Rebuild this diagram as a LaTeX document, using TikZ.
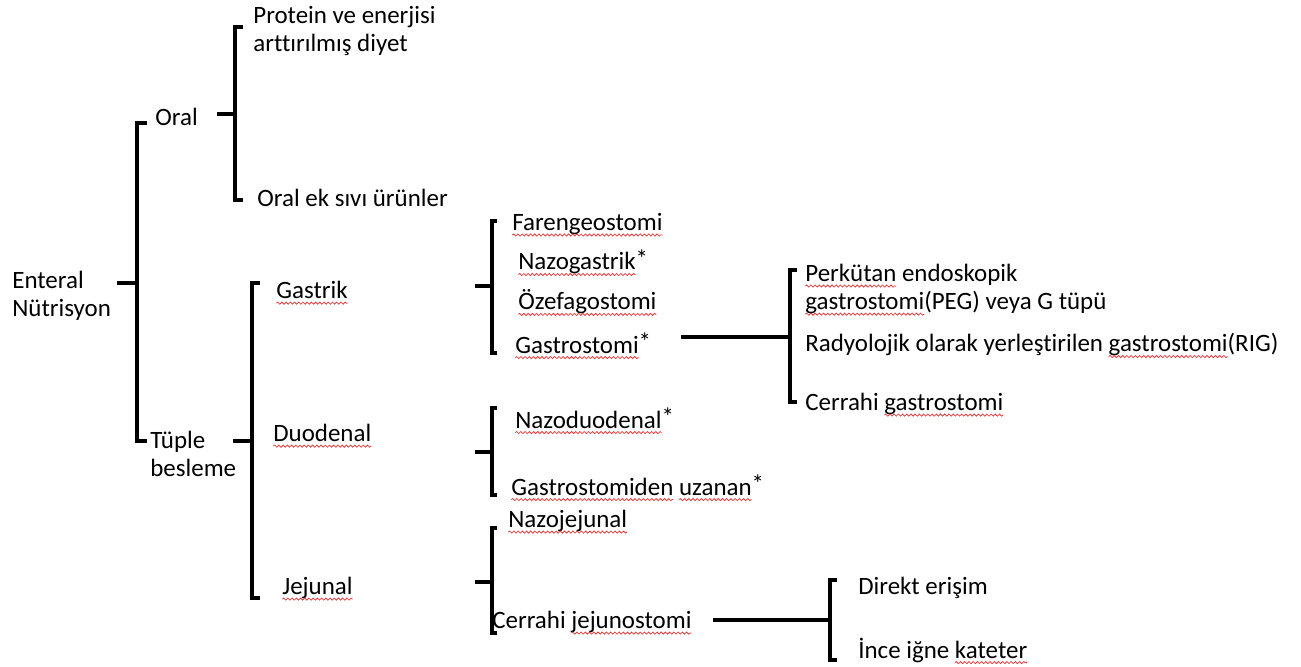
\documentclass[tikz,border=0pt]{standalone}
\usepackage{fontspec}
\setmainfont[Ligatures=NoCommon]{Carlito}
\usetikzlibrary{decorations.pathmorphing}
\definecolor{spellred}{RGB}{222,64,64}
\newcommand\yanlis[1]{\tikz[baseline=(w.base)]{\node[inner sep=0pt,outer sep=0pt,anchor=base west] (w) at (0pt,0pt) {#1};
  \draw[overlay,spellred,line width=0.45pt,decorate,decoration={snake,amplitude=0.6pt,segment length=2.4pt}] ([yshift=-2.6pt]w.base west) -- ([yshift=-2.6pt]w.base east);}}
\newcommand\yildiz{\raisebox{0.1em}{*}}
\begin{document}
\begin{tikzpicture}[x=0.02cm,y=-0.02cm,
  lbl/.style={anchor=west,inner sep=0pt,align=left,font=\fontsize{14.2pt}{16pt}\selectfont},
  brk/.style={line width=2pt}]
\useasboundingbox (0,0) rectangle (1301,666);
%\fill[red!10] (0,0) rectangle (1301,666);
% kok
\node[lbl] (enteral) at (12,296) {Enteral\\Nütrisyon};
\node[lbl] (oral) at (155,117) {Oral};
\node[lbl] (tuple) at (150,454) {Tüple\\besleme};
% oral
\node[lbl] (protein) at (253,31) {Protein ve enerjisi\\arttırılmış diyet};
\node[lbl] (oralek) at (257,198) {Oral ek sıvı ürünler};
% tuple besleme
\node[lbl] (gastrik) at (276,290) {\yanlis{Gastrik}};
\node[lbl] (duodenal) at (273,433) {\yanlis{Duodenal}};
\node[lbl] (jejunal) at (282,588) {\yanlis{Jejunal}};
% gastrik
\node[lbl] (fareng) at (512,224) {\yanlis{Farengeostomi}};
\node[lbl] (nazogas) at (518,262) {\yanlis{Nazogastrik}\yildiz};
\node[lbl] (ozefag) at (518,302) {\yanlis{Özefagostomi}};
\node[lbl] (gastro) at (515,343) {\yanlis{Gastrostomi}\yildiz};
% duodenal
\node[lbl] (nazoduo) at (515,418) {\yanlis{Nazoduodenal}\yildiz};
\node[lbl] (uzanan) at (511,485) {\yanlis{Gastrostomiden} \yanlis{uzanan}\yildiz};
% jejunal
\node[lbl] (nazojej) at (508,521) {\yanlis{Nazojejunal}};
\node[lbl] (cerjej) at (492,622) {Cerrahi \yanlis{jejunostomi}};
% gastrostomi
\node[lbl] (peg) at (805,289) {\yanlis{Perkütan} endoskopik\\\yanlis{gastrostomi}(PEG) veya G tüpü};
\node[lbl] (rig) at (805,345) {Radyolojik olarak yerleştirilen \yanlis{gastrostomi}(RIG)};
\node[lbl] (cergas) at (805,404) {Cerrahi \yanlis{gastrostomi}};
% cerrahi jejunostomi
\node[lbl] (direkt) at (858,588) {Direkt erişim};
\node[lbl] (ince) at (858,650) {İnce iğne \yanlis{kateter}};
% parantezler
\coordinate (enteral-k) at (117,283);
\draw[brk] (enteral-k) -- (137,283);
\draw[brk] (147,123) -| (137,441) -- (147,441);
\coordinate (oral-k) at (217,114);
\draw[brk] (oral-k) -- (235,114);
\draw[brk] (243,27) -| (235,200) -- (243,200);
\coordinate (tuple-k) at (233,441);
\draw[brk] (tuple-k) -- (252,441);
\draw[brk] (260,283) -| (252,598) -- (260,598);
\coordinate (gastrik-k) at (475,286);
\draw[brk] (gastrik-k) -- (492,286);
\draw[brk] (497,221) -| (492,353) -- (497,353);
\coordinate (duodenal-k) at (475,452);
\draw[brk] (duodenal-k) -- (492,452);
\draw[brk] (497,408) -| (492,495) -- (497,495);
\coordinate (jejunal-k) at (475,582);
\draw[brk] (jejunal-k) -- (492,582);
\draw[brk] (497,528) -| (492,633) -- (497,633);
\coordinate (gastro-k) at (681,337);
\draw[brk] (gastro-k) -- (790,337);
\draw[brk] (797,270) -| (790,402) -- (797,402);
\coordinate (cerjej-k) at (713,620);
\draw[brk] (cerjej-k) -- (830,620);
\draw[brk] (837,580) -| (830,660) -- (837,660);
\end{tikzpicture}
\end{document}
